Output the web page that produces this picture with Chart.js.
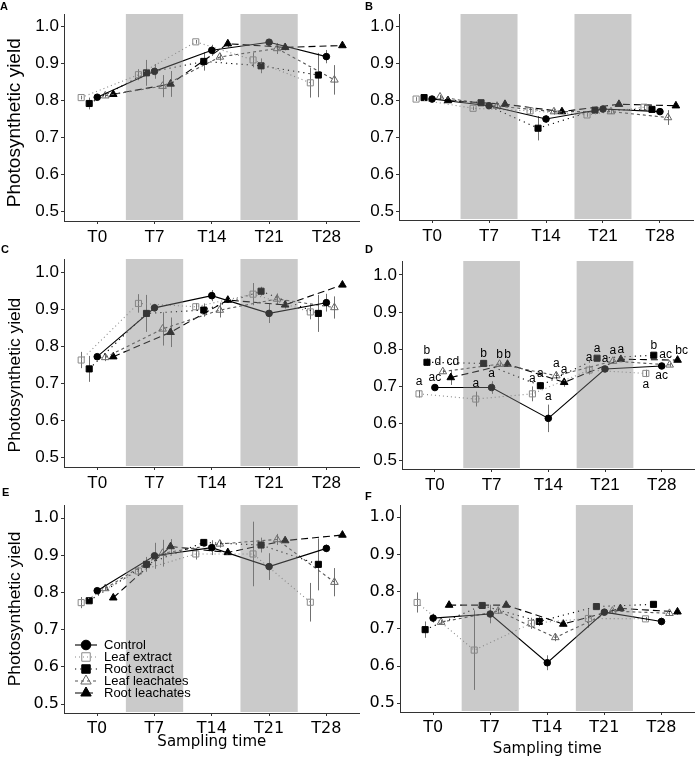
<!DOCTYPE html>
<html>
<head>
<meta charset="utf-8">
<script src="https://cdn.jsdelivr.net/npm/chart.js@4.4.1/dist/chart.umd.min.js"></script>
<style>
  html, body { margin: 0; padding: 0; background: #fff; }
  #fig { position: relative; width: 700px; height: 763px; overflow: hidden; }
  #fig canvas { position: absolute; }
  .tag { position: absolute; font: bold 11px "Liberation Sans", Arial, sans-serif; line-height: 11px; color: #000; }
</style>
</head>
<body>
<div id="fig"></div>
<script>
// ── Data ──────────────────────────────────────────────────────
const times      = ['T0', 'T7', 'T14', 'T21', 'T28'];
const treatments = ['Control', 'Leaf extract', 'Root extract', 'Leaf leachates', 'Root leachates'];
const yieldTicks  = [0.5, 0.6, 0.7, 0.8, 0.9, 1.0];
const yieldLabels = ['0.5', '0.6', '0.7', '0.8', '0.9', '1.0'];
// shaded periods, in sampling-time units (T7 and T21 weeks)
const shaded = [[0.5, 1.5], [2.5, 3.5]];

// rows follow `treatments`
const meanA = [
  [0.809, 0.879, 0.936, 0.958, 0.919],
  [0.808, 0.870, 0.959, 0.910, 0.848],
  [0.792, 0.875, 0.906, 0.894, 0.869],
  [0.813, 0.839, 0.918, 0.941, 0.856],
  [0.817, 0.845, 0.954, 0.944, 0.949],
];
const seA = [
  [0.004, 0.020, 0.015, 0.005, 0.018],
  [0.005, 0.015, 0.005, 0.020, 0.040],
  [0.016, 0.035, 0.025, 0.020, 0.060],
  [0.005, 0.030, 0.010, 0.015, 0.040],
  [0.004, 0.035, 0.010, 0.008, 0.005],
];

const meanB = [
  [0.804, 0.786, 0.750, 0.777, 0.770],
  [0.804, 0.779, 0.772, 0.761, 0.782],
  [0.808, 0.794, 0.725, 0.774, 0.776],
  [0.810, 0.785, 0.770, 0.770, 0.754],
  [0.800, 0.790, 0.770, 0.790, 0.786],
];
const seB = [
  [0.004, 0.005, 0.010, 0.008, 0.008],
  [0.005, 0.005, 0.008, 0.005, 0.008],
  [0.004, 0.005, 0.033, 0.005, 0.006],
  [0.005, 0.006, 0.008, 0.006, 0.020],
  [0.004, 0.005, 0.006, 0.005, 0.004],
];

const meanC = [
  [0.773, 0.905, 0.938, 0.890, 0.919],
  [0.764, 0.917, 0.908, 0.942, 0.894],
  [0.740, 0.890, 0.899, 0.950, 0.890],
  [0.771, 0.848, 0.899, 0.929, 0.906],
  [0.773, 0.839, 0.926, 0.913, 0.967],
];
const seC = [
  [0.004, 0.010, 0.015, 0.026, 0.024],
  [0.022, 0.025, 0.010, 0.030, 0.020],
  [0.035, 0.050, 0.018, 0.012, 0.050],
  [0.010, 0.045, 0.020, 0.015, 0.030],
  [0.004, 0.040, 0.008, 0.010, 0.004],
];

const meanD = [
  [0.697, 0.697, 0.614, 0.747, 0.755],
  [0.680, 0.666, 0.680, 0.744, 0.735],
  [0.765, 0.762, 0.702, 0.776, 0.784],
  [0.740, 0.760, 0.729, 0.768, 0.758],
  [0.724, 0.760, 0.711, 0.773, 0.771],
];
const seD = [
  [0.004, 0.017, 0.037, 0.005, 0.005],
  [0.010, 0.020, 0.020, 0.012, 0.010],
  [0.010, 0.004, 0.010, 0.005, 0.004],
  [0.005, 0.005, 0.010, 0.006, 0.005],
  [0.020, 0.005, 0.012, 0.005, 0.004],
];
// significance letters for panel D
const lettersD = [
  ['ac', 'a', 'a', 'a', 'ac'],
  ['a',  'a', 'a', 'a', 'a'],
  ['b',  'b', 'a', 'a', 'b'],
  ['d',  'b', 'a', 'a', 'ac'],
  ['cd', 'b', 'a', 'a', 'bc'],
];

const meanE = [
  [0.805, 0.899, 0.921, 0.870, 0.919],
  [0.773, 0.858, 0.904, 0.904, 0.774],
  [0.778, 0.876, 0.935, 0.928, 0.876],
  [0.811, 0.906, 0.931, 0.943, 0.828],
  [0.786, 0.924, 0.908, 0.940, 0.955],
];
const seE = [
  [0.005, 0.035, 0.020, 0.036, 0.010],
  [0.015, 0.010, 0.015, 0.087, 0.052],
  [0.004, 0.020, 0.008, 0.020, 0.070],
  [0.005, 0.036, 0.010, 0.015, 0.038],
  [0.004, 0.020, 0.005, 0.005, 0.004],
];

const meanF = [
  [0.729, 0.740, 0.609, 0.745, 0.720],
  [0.771, 0.643, 0.715, 0.728, 0.727],
  [0.698, 0.763, 0.720, 0.760, 0.766],
  [0.718, 0.748, 0.677, 0.748, 0.742],
  [0.764, 0.764, 0.713, 0.755, 0.746],
];
const seF = [
  [0.012, 0.025, 0.020, 0.006, 0.010],
  [0.027, 0.107, 0.015, 0.025, 0.005],
  [0.022, 0.005, 0.012, 0.005, 0.004],
  [0.006, 0.008, 0.010, 0.006, 0.006],
  [0.005, 0.004, 0.006, 0.006, 0.008],
];

// ── Styles ────────────────────────────────────────────────────
const SANS = '"Liberation Sans", Arial, sans-serif';
const DEJA = '"DejaVu Sans", sans-serif';

const seriesStyle = [
  { line: '#000',    dash: [],       shape: 'circle',   r: 3.3, fill: '#000',          edge: '#000' },
  { line: '#8a8a8a', dash: [1, 3],   shape: 'rect',     r: 4.3, fill: 'rgba(0,0,0,0)', edge: '#8a8a8a' },
  { line: '#000',    dash: [1.2, 4], shape: 'rect',     r: 4.3, fill: '#000',          edge: '#000' },
  { line: '#555',    dash: [3, 3],   shape: 'triangle', r: 4.4, fill: 'rgba(0,0,0,0)', edge: '#666' },
  { line: '#000',    dash: [7, 4],   shape: 'triangle', r: 4.4, fill: '#000',          edge: '#000' },
];
const dodge = [0, -0.28, -0.14, 0.14, 0.28];

// panel boxes in page pixels; area = plot area, y10/y05 = pixel of 1.0 / 0.5
const panels = [
  { tag: 'A', tagPos: [0, 1],     mean: meanA, se: seA, box: [0, 0, 365, 245],     area: [64, 14, 362, 221],  y10: 26.7,  y05: 211.3, tick: [SANS, 17], yTitle: [19, 2] },
  { tag: 'B', tagPos: [365, 1],   mean: meanB, se: seB, box: [350, 0, 350, 245],   area: [399, 14, 693, 220], y10: 26.7,  y05: 211.3, tick: [SANS, 17] },
  { tag: 'C', tagPos: [1, 244],   mean: meanC, se: seC, box: [0, 245, 365, 250],   area: [64, 259, 362, 467], y10: 272.7, y05: 457.7, tick: [SANS, 17], yTitle: [17.4, 5] },
  { tag: 'D', tagPos: [365, 244], mean: meanD, se: seD, box: [350, 245, 350, 250], area: [402, 261, 698, 469], y10: 275,   y05: 460.7, tick: [SANS, 17],
    letters: lettersD, below: { 0: [4], 1: [4] }, nudge: { 3: { 0: -5, 4: -4 }, 4: { 0: 2, 4: 4 } } },
  { tag: 'E', tagPos: [2, 487],   mean: meanE, se: seE, box: [0, 490, 365, 273],   area: [64, 505, 362, 713], y10: 518.3, y05: 704,   tick: [DEJA, 16], yTitle: [17.4, 0], xTitle: 12, legend: [75, 155] },
  { tag: 'F', tagPos: [365, 491], mean: meanF, se: seF, box: [350, 490, 350, 273], area: [400, 505, 695, 712], y10: 517.3, y05: 703.3, tick: [DEJA, 16], xTitle: 5 },
];

// ── Plugins ───────────────────────────────────────────────────
const errorBars = {
  id: 'errorBars',
  beforeDatasetsDraw(chart) {
    const { ctx, scales: { x, y } } = chart;
    ctx.save();
    ctx.lineWidth = 1;
    ctx.strokeStyle = '#707070';
    chart.data.datasets.forEach(ds => {
      ds.data.forEach((p, i) => {
        const px = Math.round(x.getPixelForValue(p.x)) + 0.5;
        ctx.beginPath();
        ctx.moveTo(px, y.getPixelForValue(p.y - ds.se[i]));
        ctx.lineTo(px, y.getPixelForValue(p.y + ds.se[i]));
        ctx.stroke();
      });
    });
    ctx.restore();
  },
};

const bands = {
  id: 'bands',
  afterDatasetsDraw(chart) {
    const { ctx, chartArea: a, scales: { x } } = chart;
    ctx.save();
    ctx.fillStyle = 'rgba(128,128,128,0.42)';
    for (const [from, to] of shaded) {
      const x0 = x.getPixelForValue(from), x1 = x.getPixelForValue(to);
      ctx.fillRect(x0, a.top, x1 - x0, a.bottom - a.top - 1);
    }
    ctx.restore();
  },
};

const letterMarks = {
  id: 'letterMarks',
  afterDatasetsDraw(chart, args, opts) {
    if (!opts.letters) return;
    const { ctx, scales: { x, y } } = chart;
    ctx.save();
    ctx.font = `12px ${SANS}`;
    ctx.fillStyle = '#000';
    ctx.textAlign = 'center';
    ctx.textBaseline = 'middle';
    chart.data.datasets.forEach((ds, s) => {
      ds.data.forEach((p, i) => {
        const below = (opts.below[s] || []).includes(i);
        const v = below ? p.y - ds.se[i] : p.y + ds.se[i];
        const py = y.getPixelForValue(v) + (below ? 8 : -8);
        const px = x.getPixelForValue(p.x) + ((opts.nudge[s] || {})[i] || 0);
        ctx.fillText(opts.letters[s][i], px, py);
      });
    });
    ctx.restore();
  },
};

const keyBox = {
  id: 'keyBox',
  afterDatasetsDraw(chart, args, opts) {
    if (!opts.at) return;
    const { ctx } = chart;
    const [x0, y0] = opts.at;
    ctx.save();
    ctx.font = `13px ${SANS}`;
    ctx.textBaseline = 'middle';
    chart.data.datasets.forEach((ds, s) => {
      const yy = y0 + s * 12;
      ctx.strokeStyle = ds.borderColor;
      ctx.lineWidth = 1.1;
      ctx.setLineDash(ds.borderDash);
      ctx.beginPath();
      ctx.moveTo(x0, yy);
      ctx.lineTo(x0 + 22, yy);
      ctx.stroke();
      ctx.setLineDash([]);
      ctx.fillStyle = ds.pointBackgroundColor;
      ctx.strokeStyle = ds.pointBorderColor;
      ctx.lineWidth = 1;
      Chart.helpers.drawPoint(ctx, {
        pointStyle: ds.pointStyle, rotation: 0, borderWidth: 1,
        radius: ds.pointStyle === 'circle' ? 4.8 : 6,
      }, x0 + 11, yy);
      ctx.fillStyle = '#000';
      ctx.fillText(ds.label, x0 + 29, yy + 0.5);
    });
    ctx.restore();
  },
};

// ── Build ─────────────────────────────────────────────────────
const fig = document.getElementById('fig');

function makePanel(p) {
  const [bx, by, bw, bh] = p.box;
  const [al, at, ar, ab] = p.area;
  const pxPerUnit = (p.y05 - p.y10) / 0.5;
  const yMax = 1.0 + (p.y10 - at) / pxPerUnit;
  const yMin = 0.5 - (ab - p.y05) / pxPerUnit;

  const canvas = document.createElement('canvas');
  canvas.width = bw;
  canvas.height = bh;
  canvas.style.left = bx + 'px';
  canvas.style.top = by + 'px';
  fig.appendChild(canvas);

  const tag = document.createElement('div');
  tag.className = 'tag';
  tag.textContent = p.tag;
  tag.style.left = p.tagPos[0] + 'px';
  tag.style.top = p.tagPos[1] + 'px';
  fig.appendChild(tag);

  const datasets = treatments.map((name, s) => {
    const st = seriesStyle[s];
    return {
      label: name,
      data: times.map((t, i) => ({ x: i + dodge[s], y: p.mean[s][i] })),
      se: p.se[s],
      borderColor: st.line,
      borderWidth: 1.1,
      borderDash: st.dash,
      pointStyle: st.shape,
      pointRadius: st.r,
      pointBackgroundColor: st.fill,
      pointBorderColor: st.edge,
      pointBorderWidth: 1,
      tension: 0,
    };
  });

  const [tickFamily, tickSize] = p.tick;
  const [titleSize, titleShift] = p.yTitle || [12, 0];
  const axisColor = '#333';

  new Chart(canvas, {
    type: 'line',
    data: { datasets },
    plugins: [errorBars, bands, letterMarks, keyBox],
    options: {
      responsive: false,
      animation: false,
      devicePixelRatio: 1,
      events: [],
      layout: { padding: { left: 0, top: at - by, right: bx + bw - ar, bottom: 0 } },
      plugins: {
        legend: { display: false },
        tooltip: { enabled: false },
        letterMarks: { letters: p.letters, below: p.below || {}, nudge: p.nudge || {} },
        keyBox: { at: p.legend },
      },
      scales: {
        x: {
          type: 'linear',
          min: -0.58,
          max: 4.58,
          afterBuildTicks: s => { s.ticks = times.map((t, i) => ({ value: i })); },
          afterFit: s => { s.height = by + bh - ab; },
          ticks: {
            callback: v => times[v],
            font: { family: tickFamily, size: tickSize },
            color: '#000',
            padding: 3,
            autoSkip: false,
            maxRotation: 0,
          },
          grid: { drawOnChartArea: false, tickLength: 3, color: axisColor },
          border: { color: axisColor, width: 1 },
          title: {
            display: p.xTitle !== undefined,
            text: 'Sampling time',
            font: { family: DEJA, size: 15 },
            color: '#000',
            padding: { top: 0, bottom: p.xTitle || 0 },
          },
        },
        y: {
          min: yMin,
          max: yMax,
          afterBuildTicks: s => { s.ticks = yieldTicks.map(v => ({ value: v })); },
          afterFit: s => { s.width = al - bx; },
          ticks: {
            callback: (v, i) => yieldLabels[i],
            font: { family: tickFamily, size: tickSize },
            color: '#000',
            padding: 2,
          },
          grid: { drawOnChartArea: false, tickLength: 3, color: axisColor },
          border: { color: axisColor, width: 1 },
          title: {
            display: p.yTitle !== undefined,
            // trailing spaces nudge the centred title towards the bottom as in the figure
            text: 'Photosynthetic yield' + ' '.repeat(titleShift),
            font: { family: SANS, size: titleSize },
            color: '#000',
            padding: { top: 15 - titleSize * 0.6, bottom: 0 },
          },
        },
      },
    },
  });
}

panels.forEach(makePanel);
</script>
</body>
</html>
